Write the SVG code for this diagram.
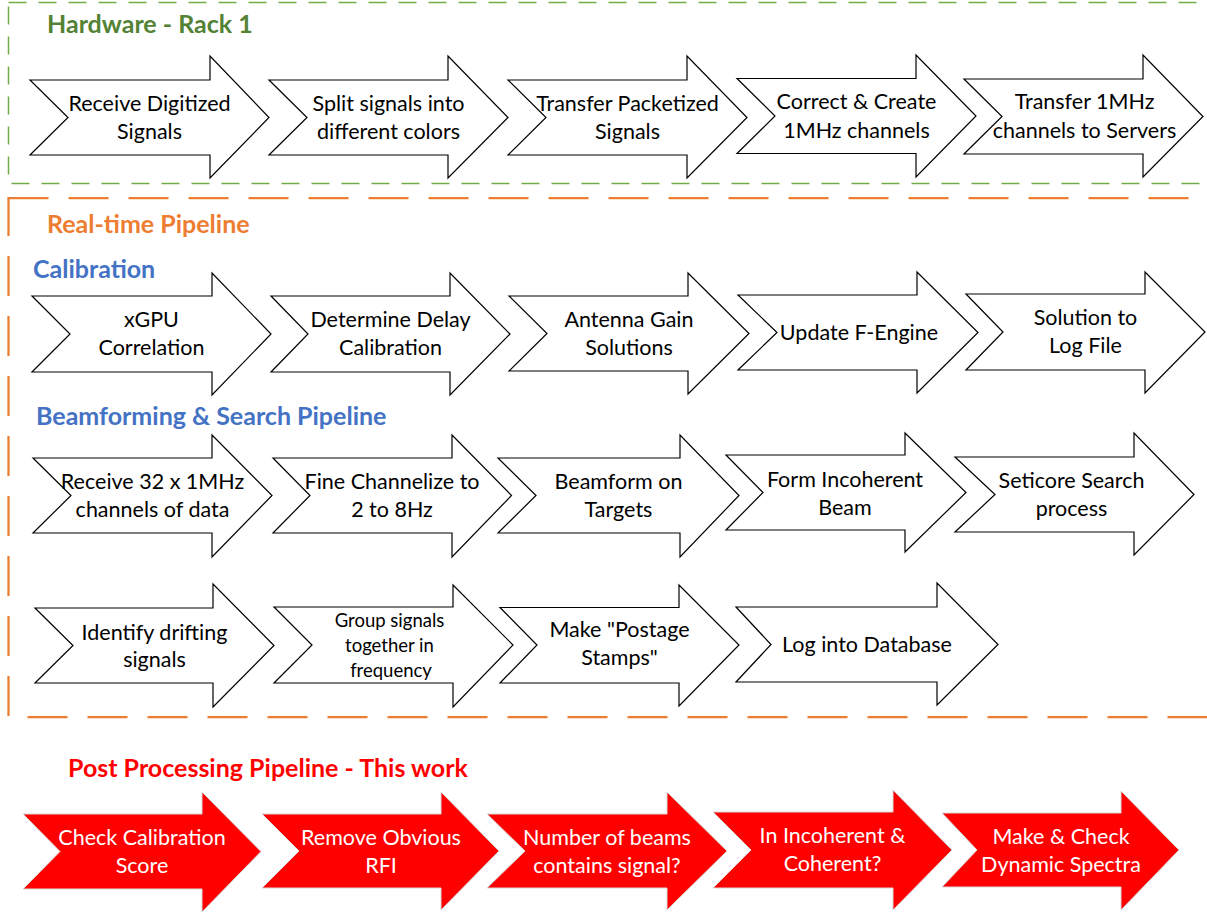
<svg xmlns="http://www.w3.org/2000/svg" width="1207" height="913" viewBox="0 0 1207 913">
<style>
.a{fill:#fff;stroke:#000;stroke-width:1.2;stroke-linejoin:miter}
.r{fill:#f00;stroke:#d8d8d8;stroke-width:1}
.t{font-family:Lato,"Liberation Sans",sans-serif;font-size:21.5px;fill:#000;text-anchor:middle}
.ts{font-size:18.5px}
.tw{fill:#fff}
.h{font-family:Lato,"Liberation Sans",sans-serif;font-weight:bold;font-size:25px}
</style>
<rect width="1207" height="913" fill="#fff"/>
<g id="boxes">
<rect id="hardware-box" x="8.5" y="2.5" width="1210" height="181" fill="none" stroke="#70AD47" stroke-width="1.5" stroke-dasharray="18 12"/>
<rect id="realtime-box" x="8.5" y="198" width="1210" height="519" fill="none" stroke="#ED7D31" stroke-width="2.25" stroke-dasharray="40 20"/>
</g>
<g id="titles">
<text class="h" x="47" y="33" fill="#548235">Hardware - Rack 1</text>
<text class="h" x="47" y="233" fill="#ED7D31">Real-time Pipeline</text>
<text class="h" x="33" y="278" fill="#4472C4">Calibration</text>
<text class="h" x="36" y="425" fill="#4472C4">Beamforming &amp; Search Pipeline</text>
<text class="h" x="68" y="777" fill="#FF0000">Post Processing Pipeline - This work</text>
</g>
<g id="connectors"></g>
<!-- Row 1 -->
<g id="hw1"><path class="a" d="M30,80 H210 V56 L269,117.5 L210,178 V155 H30 L68,117.5 Z"/><text class="t" x="149.5" y="111">Receive Digitized</text><text class="t" x="149.5" y="139">Signals</text></g>
<g id="hw2"><path class="a" d="M269,80 H448 V56 L508,117.5 L448,178 V155 H269 L307,117.5 Z"/><text class="t" x="388.5" y="111">Split signals into</text><text class="t" x="388.5" y="139">different colors</text></g>
<g id="hw3"><path class="a" d="M508,80 H687 V56 L747,117.5 L687,178 V155 H508 L546,117.5 Z"/><text class="t" x="627.5" y="111">Transfer Packetized</text><text class="t" x="627.5" y="139">Signals</text></g>
<g id="hw4"><path class="a" d="M737,78.5 H916 V55 L976,116 L916,177 V153.5 H737 L775,116 Z"/><text class="t" x="856.5" y="109">Correct &amp; Create</text><text class="t" x="856.5" y="138">1MHz channels</text></g>
<g id="hw5"><path class="a" d="M964,79 H1143 V55 L1203,116.5 L1143,177 V154 H964 L1002,116.5 Z"/><text class="t" x="1084.5" y="109">Transfer 1MHz</text><text class="t" x="1084.5" y="138">channels to Servers</text></g>
<!-- Row 2 -->
<g id="cal1"><path class="a" d="M32,296 H212 V273 L271,334 L212,395 V372 H32 L70,334 Z"/><text class="t" x="151.5" y="327">xGPU</text><text class="t" x="151.5" y="355">Correlation</text></g>
<g id="cal2"><path class="a" d="M271,296 H450 V273 L510,334 L450,395 V372 H271 L308,334 Z"/><text class="t" x="390.5" y="327">Determine Delay</text><text class="t" x="390.5" y="355">Calibration</text></g>
<g id="cal3"><path class="a" d="M509,296 H688 V273 L749,333.5 L688,394 V371 H509 L547,333.5 Z"/><text class="t" x="629" y="327">Antenna Gain</text><text class="t" x="629" y="355">Solutions</text></g>
<g id="cal4"><path class="a" d="M738,295 H917 V272 L978,332.5 L917,393 V370 H738 L777,332.5 Z"/><text class="t" x="859" y="340">Update F-Engine</text></g>
<g id="cal5"><path class="a" d="M966,294 H1145 V272 L1205,332 L1145,393 V370 H966 L1003,332 Z"/><text class="t" x="1085.5" y="325">Solution to</text><text class="t" x="1085.5" y="353">Log File</text></g>
<!-- Row 3 -->
<g id="bf1"><path class="a" d="M33,458 H212 V435 L272,495.5 L212,557 V533 H33 L71,495.5 Z"/><text class="t" x="152.5" y="489">Receive 32 x 1MHz</text><text class="t" x="152.5" y="517">channels of data</text></g>
<g id="bf2"><path class="a" d="M273,458 H452 V435 L511.5,495.5 L452,557 V533 H273 L310,495.5 Z"/><text class="t" x="392" y="489">Fine Channelize to</text><text class="t" x="392" y="517">2 to 8Hz</text></g>
<g id="bf3"><path class="a" d="M498,458 H680 V435 L739,495.5 L680,557 V533 H498 L536,495.5 Z"/><text class="t" x="618.5" y="489">Beamform on</text><text class="t" x="618.5" y="517">Targets</text></g>
<g id="bf4"><path class="a" d="M726,455 H905 V433 L966,492.5 L905,552 V530 H726 L763,492.5 Z"/><text class="t" x="845" y="487">Form Incoherent</text><text class="t" x="845" y="515">Beam</text></g>
<g id="bf5"><path class="a" d="M955,457 H1134 V433 L1194,494.5 L1134,555 V532 H955 L995,494.5 Z"/><text class="t" x="1071.5" y="488">Seticore Search</text><text class="t" x="1071.5" y="516">process</text></g>
<!-- Row 4 -->
<g id="bf6"><path class="a" d="M35,608 H213 V584 L274,645.5 L213,707 V683 H35 L73,645.5 Z"/><text class="t" x="154.5" y="640">Identify drifting</text><text class="t" x="154.5" y="667">signals</text></g>
<g id="bf7"><path class="a" d="M274,607 H453 V585 L513,645 L453,707 V683 H274 L312,645 Z"/><text class="t ts" x="389.5" y="627">Group signals</text><text class="t ts" x="389.5" y="652">together in</text><text class="t ts" x="391" y="677">frequency</text></g>
<g id="bf8"><path class="a" d="M500,607.5 H679 V585 L739,645 L679,706 V683 H500 L537,645 Z"/><text class="t" x="619.5" y="637">Make "Postage</text><text class="t" x="619.5" y="665">Stamps"</text></g>
<g id="bf9"><path class="a" d="M736,607 H937 V583 L998,644.5 L937,705 V682 H736 L771,644.5 Z"/><text class="t" x="867" y="652">Log into Database</text></g>
<!-- Row 5 -->
<g id="pp1"><path class="r" d="M23,814 H202 V792 L261,851.5 L202,912 V889 H23 L60,851.5 Z"/><text class="t tw" x="142" y="845">Check Calibration</text><text class="t tw" x="142" y="873">Score</text></g>
<g id="pp2"><path class="r" d="M262,814 H441 V792 L499,851 L441,910 V888 H262 L299,851 Z"/><text class="t tw" x="381" y="845">Remove Obvious</text><text class="t tw" x="381" y="873">RFI</text></g>
<g id="pp3"><path class="r" d="M487,814 H667 V792 L727,851 L667,910 V888 H487 L525,851 Z"/><text class="t tw" x="607" y="845">Number of beams</text><text class="t tw" x="607" y="873">contains signal?</text></g>
<g id="pp4"><path class="r" d="M713,812 H893 V790 L952,850 L893,910 V888 H713 L751,850 Z"/><text class="t tw" x="832.5" y="843">In Incoherent &amp;</text><text class="t tw" x="832.5" y="871">Coherent?</text></g>
<g id="pp5"><path class="r" d="M942,813 H1121 V791 L1179,850 L1121,910 V887 H942 L977,850 Z"/><text class="t tw" x="1061" y="844">Make &amp; Check</text><text class="t tw" x="1061" y="872">Dynamic Spectra</text></g>
</svg>
